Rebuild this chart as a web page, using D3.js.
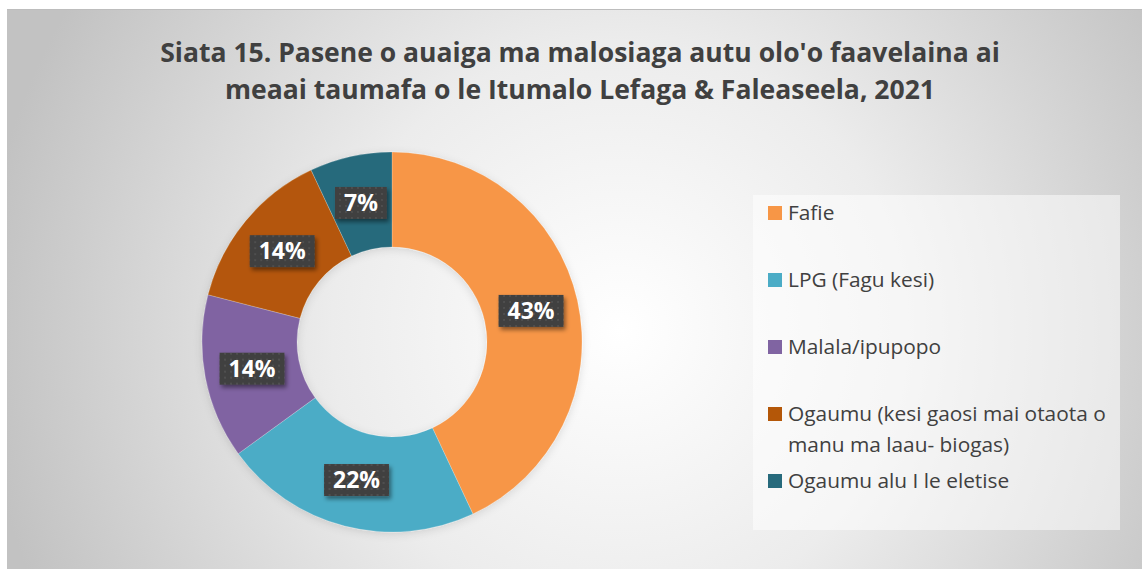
<!DOCTYPE html>
<html>
<head>
<meta charset="utf-8">
<script src="https://cdn.jsdelivr.net/npm/d3@7"></script>
<style>
  body { margin: 0; background: #fff; }
  text { font-family: "Open Sans", "Noto Sans", sans-serif; }
</style>
</head>
<body>
<svg id="chart"></svg>
<script>
// data
const categories = [
  'Fafie',
  'LPG (Fagu kesi)',
  'Malala/ipupopo',
  'Ogaumu (kesi gaosi mai otaota o manu ma laau- biogas)',
  'Ogaumu alu I le eletise'
]
const legendLines = [
  ['Fafie'],
  ['LPG (Fagu kesi)'],
  ['Malala/ipupopo'],
  ['Ogaumu (kesi gaosi mai otaota o', 'manu ma laau- biogas)'],
  ['Ogaumu alu I le eletise']
]
const values = [43, 22, 14, 14, 7]
const colors = ['#F79646', '#4BACC6', '#8064A2', '#B45708', '#276A7C']
const titleLines = [
  "Siata 15. Pasene o auaiga ma malosiaga autu olo'o faavelaina ai",
  'meaai taumafa o le Itumalo Lefaga & Faleaseela, 2021'
]

const W = 1142, H = 569
const svg = d3.select('#chart').attr('width', W).attr('height', H)
const defs = svg.append('defs')

// background gradient
const bg = defs.append('radialGradient')
  .attr('id', 'bg').attr('gradientUnits', 'userSpaceOnUse')
  .attr('cx', 620).attr('cy', 330).attr('r', 640)
bg.append('stop').attr('offset', 0).attr('stop-color', '#ffffff')
bg.append('stop').attr('offset', 0.45).attr('stop-color', '#ececec')
bg.append('stop').attr('offset', 1).attr('stop-color', '#c2c2c2')

// dotted pattern for the label boxes
const pat = defs.append('pattern')
  .attr('id', 'dots').attr('patternUnits', 'userSpaceOnUse')
  .attr('width', 6).attr('height', 6)
pat.append('rect').attr('width', 6).attr('height', 6).attr('fill', '#404040')
pat.append('circle').attr('cx', 3).attr('cy', 3).attr('r', 1).attr('fill', '#545454')

const shadow = defs.append('filter').attr('id', 'shadow')
  .attr('x', '-30%').attr('y', '-30%').attr('width', '160%').attr('height', '170%')
shadow.append('feDropShadow').attr('dx', 2).attr('dy', 3).attr('stdDeviation', 2)
  .attr('flood-color', '#000').attr('flood-opacity', 0.45)

const glow = defs.append('filter').attr('id', 'glow')
  .attr('x', '-10%').attr('y', '-10%').attr('width', '120%').attr('height', '120%')
glow.append('feDropShadow').attr('dx', 0).attr('dy', 2).attr('stdDeviation', 4)
  .attr('flood-color', '#000').attr('flood-opacity', 0.12)

svg.append('rect')
  .attr('x', 7).attr('y', 9).attr('width', W - 7).attr('height', H - 9)
  .attr('fill', 'url(#bg)')
svg.append('line')
  .attr('x1', 7).attr('x2', W).attr('y1', 9.5).attr('y2', 9.5)
  .attr('stroke', '#bdbdbd')

// title, fitted to the width it has in the picture
const title = svg.append('g')
titleLines.forEach((t, i) => {
  title.append('text')
    .attr('x', 580).attr('y', 62 + i * 37)
    .attr('text-anchor', 'middle')
    .attr('font-weight', 'bold')
    .attr('fill', '#404040')
    .attr('font-size', 26)
    .text(t)
})
const firstTitle = title.select('text').node()
const titleSize = 26 * 840 / firstTitle.getComputedTextLength()
title.selectAll('text').attr('font-size', titleSize)

// donut
const cx = 392, cy = 342
const outer = 190, inner = 95

const pie = d3.pie().sort(null).value(d => d)
const arcs = pie(values)
const arc = d3.arc().innerRadius(inner).outerRadius(outer)

const g = svg.append('g').attr('transform', `translate(${cx},${cy})`)
g.append('g').attr('filter', 'url(#glow)')
  .selectAll('path')
  .data(arcs)
  .join('path')
  .attr('d', arc)
  .attr('fill', (d, i) => colors[i])
  .attr('stroke', 'rgba(255,255,255,0.35)')
  .attr('stroke-width', 0.6)

// data labels
const labels = g.selectAll('g.label')
  .data(arcs)
  .join('g')
  .attr('class', 'label')
  .attr('transform', d => `translate(${arc.centroid(d)})`)

labels.append('text')
  .attr('text-anchor', 'middle')
  .attr('dy', '0.36em')
  .attr('font-weight', 'bold')
  .attr('font-size', 23)
  .attr('fill', '#fff')
  .text(d => d.data + '%')

labels.each(function () {
  const lab = d3.select(this)
  const w = lab.select('text').node().getComputedTextLength() + 18
  lab.insert('rect', 'text')
    .attr('x', -w / 2).attr('y', -16)
    .attr('width', w).attr('height', 32)
    .attr('fill', 'url(#dots)')
    .attr('filter', 'url(#shadow)')
})

// legend
svg.append('rect')
  .attr('x', 753).attr('y', 195).attr('width', 367).attr('height', 335)
  .attr('fill', '#ffffff').attr('fill-opacity', 0.5)

const legendY = d3.scaleLinear().domain([0, 1]).range([213, 280])
const legend = svg.append('g')
const items = legend.selectAll('g')
  .data(categories)
  .join('g')
  .attr('transform', (d, i) => `translate(768,${legendY(i)})`)

items.append('rect')
  .attr('x', 0).attr('y', -7).attr('width', 14).attr('height', 14)
  .attr('fill', (d, i) => colors[i])

items.append('text')
  .attr('fill', '#404040')
  .attr('font-size', 20)
  .each(function (d, i) {
    const t = d3.select(this)
    legendLines[i].forEach((line, j) => {
      t.append('tspan').attr('x', 20).attr('dy', j === 0 ? '0.35em' : 31).text(line)
    })
  })

const longest = items.filter((d, i) => i === 3).select('tspan').node()
const legendSize = 20 * 318 / longest.getComputedTextLength()
items.selectAll('text').attr('font-size', legendSize)
</script>
</body>
</html>
